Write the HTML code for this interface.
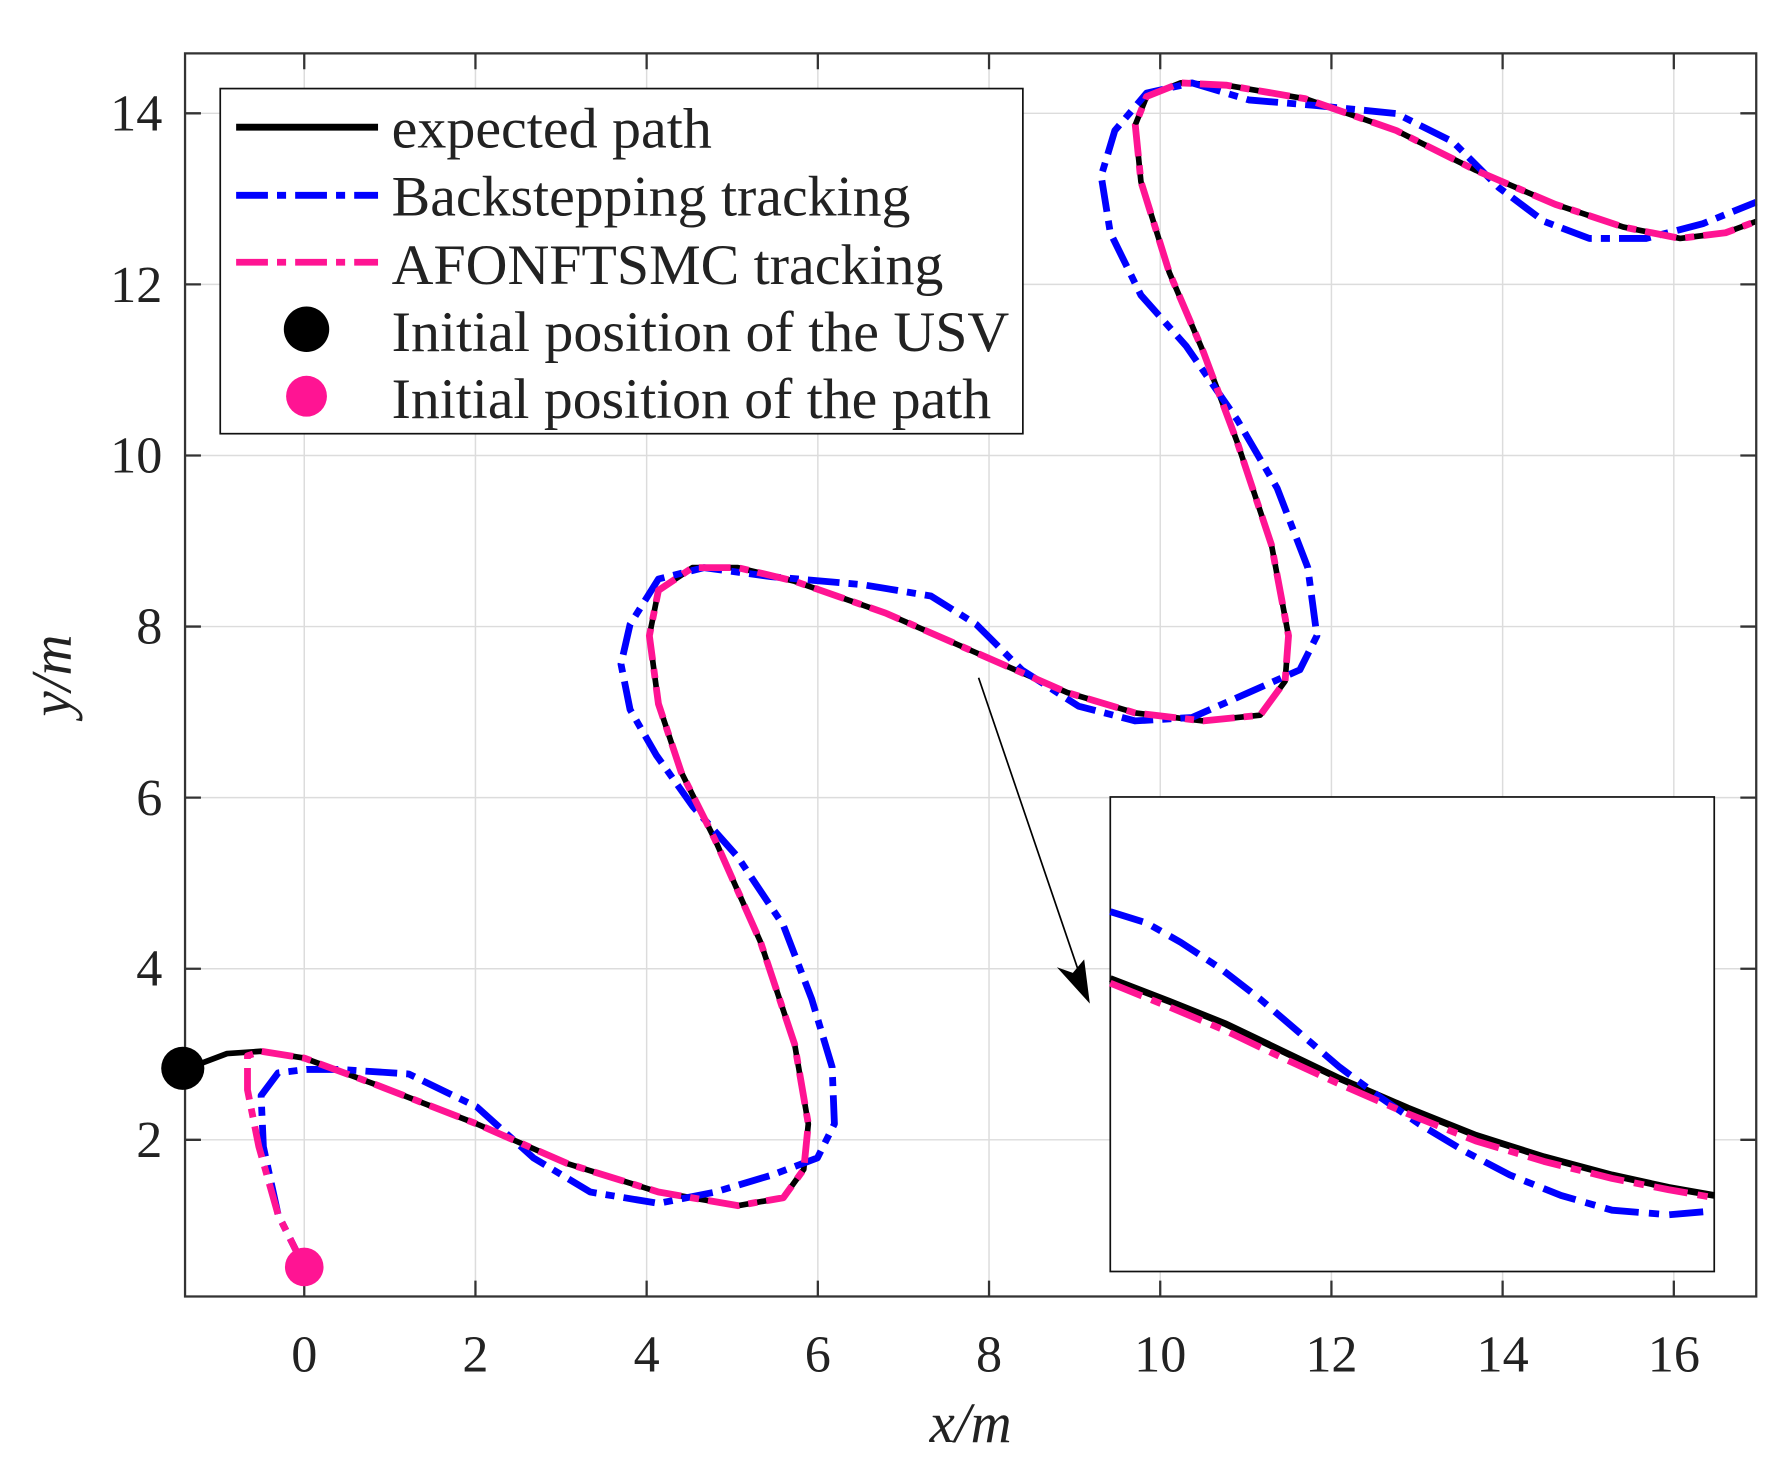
<!DOCTYPE html>
<html><head><meta charset="utf-8"><style>
html,body{margin:0;padding:0;background:#fff;}
svg{display:block;}
text{font-family:"Liberation Serif",serif;fill:#222;}
</style></head><body>
<svg width="1771" height="1466" viewBox="0 0 1560 1291.3" xmlns="http://www.w3.org/2000/svg">
<rect width="1560" height="1292" fill="#fff"/>
<g stroke="#dcdcdc" stroke-width="1.3">
<line x1="268" y1="47" x2="268" y2="1142"/><line x1="418.8" y1="47" x2="418.8" y2="1142"/><line x1="569.6" y1="47" x2="569.6" y2="1142"/><line x1="720.4" y1="47" x2="720.4" y2="1142"/><line x1="871.2" y1="47" x2="871.2" y2="1142"/><line x1="1022" y1="47" x2="1022" y2="1142"/><line x1="1172.8" y1="47" x2="1172.8" y2="1142"/><line x1="1323.6" y1="47" x2="1323.6" y2="1142"/><line x1="1474.4" y1="47" x2="1474.4" y2="1142"/>
<line x1="163" y1="1004" x2="1547" y2="1004"/><line x1="163" y1="853.3" x2="1547" y2="853.3"/><line x1="163" y1="702.6" x2="1547" y2="702.6"/><line x1="163" y1="551.9" x2="1547" y2="551.9"/><line x1="163" y1="401.2" x2="1547" y2="401.2"/><line x1="163" y1="250.5" x2="1547" y2="250.5"/><line x1="163" y1="99.8" x2="1547" y2="99.8"/>
</g>
<g stroke="#333" stroke-width="2">
<path d="M268,1142v-14M418.8,1142v-14M569.6,1142v-14M720.4,1142v-14M871.2,1142v-14M1022,1142v-14M1172.8,1142v-14M1323.6,1142v-14M1474.4,1142v-14"/>
<path d="M268,47v14M418.8,47v14M569.6,47v14M720.4,47v14M871.2,47v14M1022,47v14M1172.8,47v14M1323.6,47v14M1474.4,47v14"/>
<path d="M163,1004h14M163,853.3h14M163,702.6h14M163,551.9h14M163,401.2h14M163,250.5h14M163,99.8h14"/>
<path d="M1547,1004h-14M1547,853.3h-14M1547,702.6h-14M1547,551.9h-14M1547,401.2h-14M1547,250.5h-14M1547,99.8h-14"/>
</g>
<g fill="none" stroke-linejoin="round">
<polyline stroke="#000" stroke-width="5" points="163,942 200,928 230,926 268,932 330,955 420,990 500,1025 580,1050 650,1062 690,1055 708,1030 712,990 700,920 670,830 630,740 600,680 580,620 572,560 580,520 610,500 650,500 700,512 780,540 860,575 940,610 1000,628 1060,635 1110,630 1132,600 1135,560 1120,480 1090,390 1060,310 1030,240 1005,160 1000,110 1010,85 1040,73 1080,75 1150,87 1230,115 1300,150 1370,180 1430,200 1480,210 1520,205 1547,195"/>
<polyline stroke="#0000ff" stroke-width="6" stroke-dasharray="28,8,8,8" points="268,1116 245,1070 232,1010 230,965 245,945 270,942 300,942 360,946 420,975 470,1020 520,1050 580,1060 630,1050 680,1035 720,1020 735,990 733,940 715,880 690,815 650,755 610,710 578,665 555,625 547,585 555,550 580,510 620,500 680,508 760,515 820,525 860,550 900,590 950,622 1000,635 1050,632 1100,610 1145,590 1160,560 1152,500 1125,430 1090,370 1045,305 1005,260 978,205 970,155 982,115 1010,82 1050,73 1100,88 1160,93 1230,100 1280,125 1320,165 1360,195 1400,210 1450,210 1500,197 1547,178"/>
<polyline stroke="#ff1493" stroke-width="6" stroke-dasharray="28,8,8,8" points="268,1116 245,1070 228,1010 218,960 218,930 230,926 268,932 330,955 420,990 500,1025 580,1050 650,1062 690,1055 708,1030 712,990 700,920 670,830 630,740 600,680 580,620 572,560 580,520 610,500 650,500 700,512 780,540 860,575 940,610 1000,628 1060,635 1110,630 1132,600 1135,560 1120,480 1090,390 1060,310 1030,240 1005,160 1000,110 1010,85 1040,73 1080,75 1150,87 1230,115 1300,150 1370,180 1430,200 1480,210 1520,205 1547,195"/>
</g>
<rect x="163" y="47" width="1384" height="1095" fill="none" stroke="#333" stroke-width="2"/>
<circle cx="161" cy="941" r="19" fill="#000"/>
<circle cx="268" cy="1116" r="17" fill="#ff1493"/>
<rect x="978" y="702" width="532" height="418" fill="#fff" stroke="#111" stroke-width="1.5"/>
<g fill="none" stroke-linejoin="round">
<polyline stroke="#000" stroke-width="6" points="978,862 1030,882 1080,902 1130,926 1180,950 1240,976 1300,1000 1360,1019 1420,1035 1470,1046 1510,1053"/>
<polyline stroke="#0000ff" stroke-width="6" stroke-dasharray="30,9,9,9" points="978,803 1010,813 1040,830 1075,853 1110,880 1145,910 1180,940 1215,966 1250,990 1290,1014 1330,1035 1375,1053 1420,1066 1470,1070 1505,1067"/>
<polyline stroke="#ff1493" stroke-width="6" stroke-dasharray="30,9,9,9" points="978,866 1030,887 1080,908 1130,932 1180,955 1240,981 1300,1005 1360,1023 1420,1038 1470,1048 1510,1055"/>
</g>
<line x1="862" y1="597" x2="955" y2="870" stroke="#000" stroke-width="1.5"/>
<path d="M960,884 L931,852 L945,857 L955,845 Z" fill="#000"/>
<rect x="194" y="78" width="707" height="304" fill="#fff" stroke="#111" stroke-width="1.5"/>
<line x1="208" y1="112" x2="333" y2="112" stroke="#000" stroke-width="6"/>
<line x1="208" y1="172" x2="333" y2="172" stroke="#0000ff" stroke-width="6" stroke-dasharray="28,8,8,8"/>
<line x1="208" y1="231" x2="333" y2="231" stroke="#ff1493" stroke-width="6" stroke-dasharray="28,8,8,8"/>
<circle cx="270" cy="290" r="20" fill="#000"/>
<circle cx="270" cy="349" r="18" fill="#ff1493"/>
<g font-size="50">
<text x="345" y="130" textLength="282" lengthAdjust="spacingAndGlyphs">expected path</text>
<text x="345" y="190" textLength="457" lengthAdjust="spacingAndGlyphs">Backstepping tracking</text>
<text x="345" y="250" textLength="486" lengthAdjust="spacingAndGlyphs">AFONFTSMC tracking</text>
<text x="345" y="309" textLength="544" lengthAdjust="spacingAndGlyphs">Initial position of the USV</text>
<text x="345" y="368" textLength="528" lengthAdjust="spacingAndGlyphs">Initial position of the path</text>
</g>
<g font-size="46" text-anchor="middle">
<text x="268" y="1208">0</text><text x="418.8" y="1208">2</text><text x="569.6" y="1208">4</text><text x="720.4" y="1208">6</text><text x="871.2" y="1208">8</text><text x="1022" y="1208">10</text><text x="1172.8" y="1208">12</text><text x="1323.6" y="1208">14</text><text x="1474.4" y="1208">16</text>
</g>
<g font-size="46" text-anchor="end">
<text x="143" y="1019">2</text><text x="143" y="868">4</text><text x="143" y="718">6</text><text x="143" y="567">8</text><text x="143" y="416">10</text><text x="143" y="266">12</text><text x="143" y="115">14</text>
</g>
<text x="855" y="1270" font-size="50" font-style="italic" text-anchor="middle">x/m</text>
<text transform="translate(62,595) rotate(-90)" font-size="50" font-style="italic" text-anchor="middle">y/m</text>
</svg>
</body></html>
